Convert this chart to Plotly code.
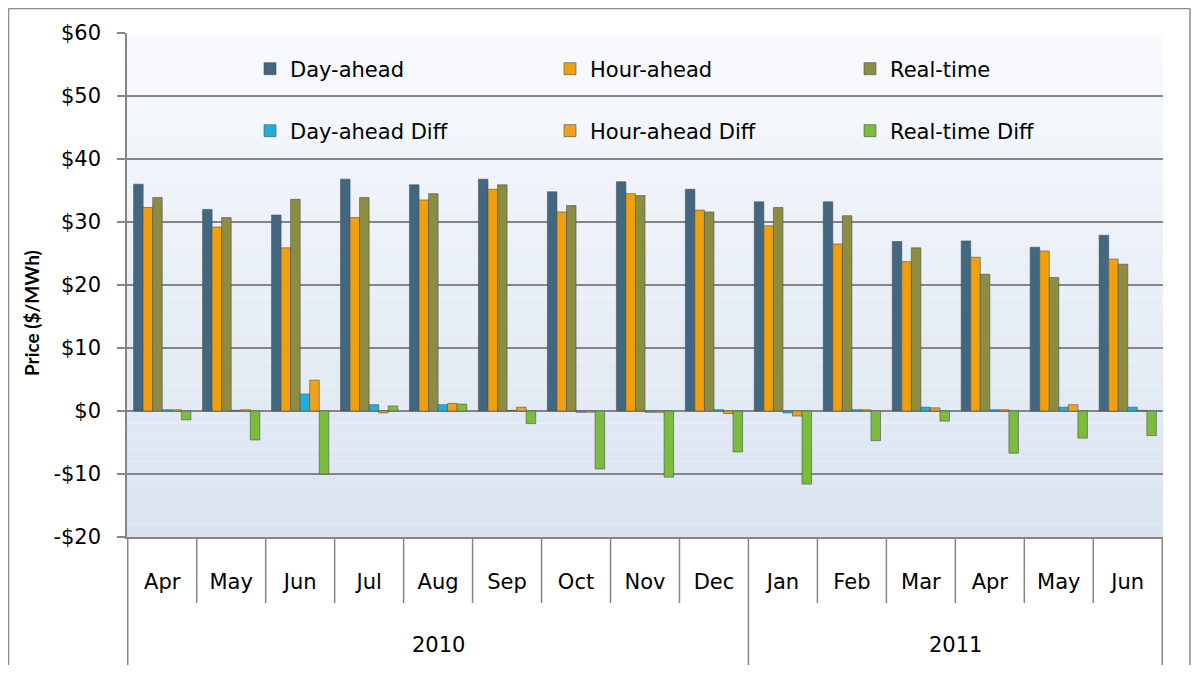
import plotly.graph_objects as go

years = ["2010"] * 9 + ["2011"] * 6
months = ["Apr", "May", "Jun", "Jul", "Aug", "Sep", "Oct", "Nov", "Dec",
          "Jan", "Feb", "Mar", "Apr", "May", "Jun"]
year_labels = ["2010", "2011"]

day_ahead = [36.0, 32.0, 31.1, 36.8, 35.9, 36.8, 34.8, 36.4, 35.2, 33.2, 33.2, 26.9, 27.0, 26.0, 27.9]
hour_ahead = [32.3, 29.2, 25.9, 30.7, 33.5, 35.2, 31.6, 34.5, 31.9, 29.4, 26.5, 23.7, 24.4, 25.4, 24.1]
real_time = [33.9, 30.7, 33.6, 33.9, 34.5, 35.9, 32.6, 34.2, 31.6, 32.3, 31.0, 25.9, 21.7, 21.2, 23.3]
day_ahead_diff = [0.2, 0.1, 2.7, 1.0, 1.0, 0.1, -0.2, -0.2, 0.2, -0.3, 0.2, 0.6, 0.2, 0.6, 0.6]
hour_ahead_diff = [0.2, 0.2, 4.9, -0.3, 1.2, 0.6, -0.2, -0.2, -0.4, -0.8, 0.2, 0.5, 0.2, 1.0, 0.1]
real_time_diff = [-1.4, -4.6, -10.0, 0.8, 1.1, -2.0, -9.2, -10.5, -6.5, -11.6, -4.7, -1.6, -6.7, -4.3, -3.9]

y_tickvals = [-20, -10, 0, 10, 20, 30, 40, 50, 60]
y_ticktext = ["-$20", "-$10", "$0", "$10", "$20", "$30", "$40", "$50", "$60"]
y_title = "Price ($/MWh)"

series_names = ["Day-ahead", "Hour-ahead", "Real-time",
                "Day-ahead Diff", "Hour-ahead Diff", "Real-time Diff"]
series_vals = [day_ahead, hour_ahead, real_time, day_ahead_diff, hour_ahead_diff, real_time_diff]
colors = ["#426781", "#f0a00c", "#8c8d40", "#20aee0", "#eea31a", "#7cbc3c"]

cats = [m + " " + y for m, y in zip(months, years)]

# page has an 8px body margin; figure coordinates are shifted accordingly
OFF = 8
W, H = 1199 - 2 * OFF, 673 - 2 * OFF
PL, PT, PR, PB = 127, 33, 1163, 537  # plot area in page pixels
L, T = PL - OFF, PT - OFF
R, B = W - (PR - OFF), H - (PB - OFF)
pw, ph = PR - PL, PB - PT


def px_x(page_x):
    return (page_x - PL) / pw


def px_y(page_y):
    return (PB - page_y) / ph


fig = go.Figure()
legend_pos = [(270, 69), (570, 69), (870, 69), (270, 131), (570, 131), (870, 131)]
legend_layouts = {}
for i, (name, vals, color) in enumerate(zip(series_names, series_vals, colors)):
    lg = "legend" if i == 0 else "legend%d" % (i + 1)
    fig.add_trace(go.Bar(
        x=cats, y=vals, name=name, legend=lg,
        marker=dict(color=color, line=dict(color="rgba(80,80,80,0.6)", width=1)),
    ))
    mx, my = legend_pos[i]
    legend_layouts[lg] = dict(
        x=px_x(mx - 20), y=px_y(my), xanchor="left", yanchor="middle",
        bgcolor="rgba(0,0,0,0)", borderwidth=0,
        font=dict(family="DejaVu Sans", size=21, color="black"),
    )

shapes = []
n = 40
top = (248, 250, 253)
bot = (218, 228, 241)
for i in range(n):
    f = i / (n - 1)
    c = tuple(int(round(top[k] + (bot[k] - top[k]) * f)) for k in range(3))
    shapes.append(dict(type="rect", xref="x domain", yref="y domain",
                       x0=0, x1=1, y0=1 - (i + 1) / n, y1=1 - i / n,
                       fillcolor="rgb(%d,%d,%d)" % c, line=dict(width=0), layer="below"))

grey = "#858585"
# month dividers
for i in range(len(months) + 1):
    b = i - 0.5
    is_year = (i == 0) or (i == len(months)) or (years[i] != years[i - 1])
    shapes.append(dict(type="line", xref="x", yref="paper", x0=b, x1=b,
                       y0=0, y1=px_y(667 if is_year else 603),
                       line=dict(color=grey, width=1.5)))

# outer frame (left, top, right)
fl, ft, fr = px_x(OFF + 0.5), px_y(OFF + 0.5), px_x(1199 - OFF - 1)
fb = px_y(700)
for x0, x1, y0, y1 in [(fl, fl, fb, ft), (fl, fr, ft, ft), (fr, fr, fb, ft)]:
    shapes.append(dict(type="line", xref="paper", yref="paper", x0=x0, x1=x1, y0=y0, y1=y1,
                       line=dict(color="#8c8c8c", width=1.5)))

# year labels
annotations = []
year_idx = {}
for i, y in enumerate(years):
    year_idx.setdefault(y, []).append(i)
for y in year_labels:
    idx = year_idx[y]
    annotations.append(dict(x=(idx[0] + idx[-1]) / 2, y=px_y(645), xref="x", yref="paper",
                            text=y, showarrow=False, xanchor="center", yanchor="middle",
                            font=dict(family="DejaVu Sans", size=21, color="black")))
# y-axis title
annotations.append(dict(x=px_x(31), y=px_y(313), xref="paper", yref="paper",
                        text="<b>" + y_title + "</b>", textangle=-90, showarrow=False,
                        xanchor="center", yanchor="middle",
                        font=dict(family="'Liberation Sans Narrow', Lato, sans-serif",
                                  size=19, color="black")))

fig.update_layout(
    width=W, height=H,
    margin=dict(l=L, r=R, t=T, b=B, autoexpand=False),
    paper_bgcolor="white",
    plot_bgcolor="rgba(0,0,0,0)",
    barmode="group", bargap=0.17, bargroupgap=0.0,
    font=dict(family="DejaVu Sans", size=19, color="black"),
    shapes=shapes, annotations=annotations,
    showlegend=True,
    **legend_layouts,
)
fig.update_yaxes(
    range=[-20, 60], tickvals=y_tickvals, ticktext=y_ticktext,
    showgrid=True, gridcolor=grey, gridwidth=1.5,
    zeroline=True, zerolinecolor=grey, zerolinewidth=1.5,
    showline=True, linecolor=grey, linewidth=1.5,
    ticks="outside", ticklen=8, tickcolor=grey, tickwidth=1.5,
    ticklabelstandoff=12,
    tickfont=dict(family="DejaVu Sans", size=21),
)
fig.update_xaxes(
    showline=True, linecolor=grey, linewidth=1.5,
    ticks="", tickvals=cats, ticktext=months,
    ticklabelstandoff=25,
    tickfont=dict(family="DejaVu Sans", size=21),
)

fig.write_html("out.html")
